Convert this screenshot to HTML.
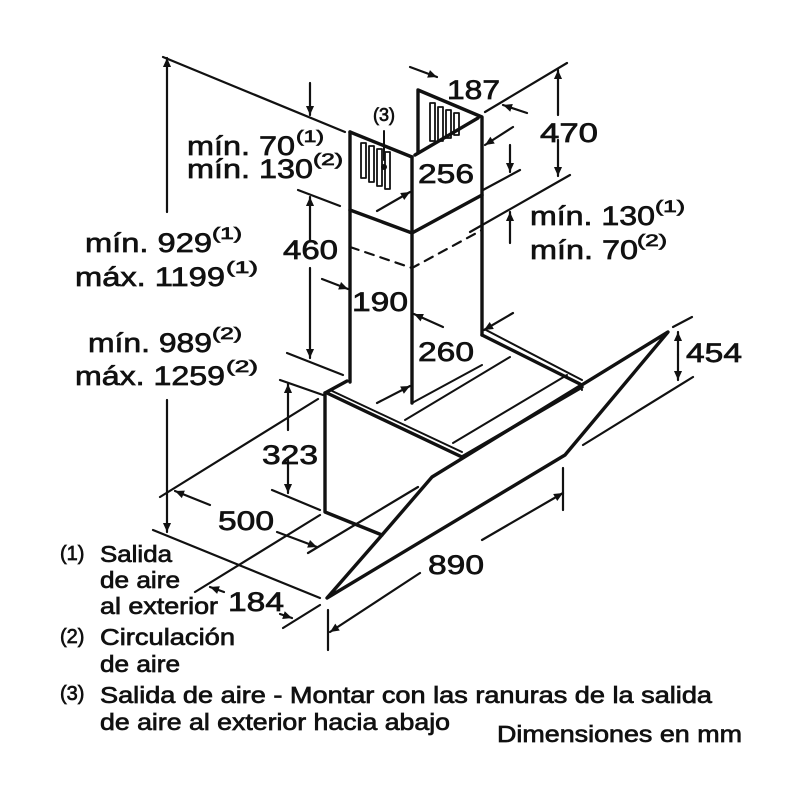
<!DOCTYPE html>
<html><head><meta charset="utf-8"><style>
html,body{margin:0;padding:0;background:#fff;}
svg{display:block;}
text{font-family:"Liberation Sans",Arial,sans-serif;fill:#111;stroke:#111;stroke-width:0.7;}
</style></head><body>
<svg width="800" height="800" viewBox="0 0 800 800" xmlns="http://www.w3.org/2000/svg">
<defs>
<marker id="a" viewBox="0 0 10 10" refX="10" refY="5" markerWidth="11" markerHeight="9" markerUnits="userSpaceOnUse" orient="auto"><path d="M0,0.5 L10,5 L0,9.5 Z" fill="#111"/></marker>
</defs>
<rect width="800" height="800" fill="#fff"/>
<g stroke="#111" fill="none" stroke-linecap="round" stroke-linejoin="round">
<g stroke-width="3.4">
<path d="M350,132 L350,382"/>
<path d="M350,132 L412,157"/>
<path d="M412,157 L412,403"/>
<path d="M418,153 L418,90 L482,117 L482,335"/>
<path d="M415,155 L478,118"/>
<path d="M350,210 L412,233 L482,195"/>
<path d="M325,393 L325,512 L382,535"/>
<path d="M325,393 L347,381"/>
<path d="M327,393 L462,457"/>
<path d="M482,335 L580,384"/>
<path d="M327,598 L382,535 L432,477 L668,332 L565,455 L327,598 Z"/>
<path d="M462,457 L582,387"/>
</g>
<g stroke-width="2">
<path d="M330,390 L462,452"/>
<path d="M486,330 L582,380"/>
<path d="M405,420 L510,357"/>
<path d="M453,443 L567,375"/>
<path d="M412,403 L482,365"/>
<path d="M580,384 L582,390"/>
</g>
<path d="M350,247 L412,268 L482,230" stroke-width="2.2" stroke-dasharray="9,7"/>
<g stroke-width="1.8">
<rect x="361" y="143" width="5" height="35"/><rect x="369" y="146" width="5" height="36"/><rect x="377" y="149" width="5" height="37"/><rect x="385" y="152" width="5" height="37"/>
<rect x="430" y="103" width="5" height="38"/><rect x="438" y="107" width="5" height="34"/><rect x="446" y="110" width="5" height="28"/><rect x="454" y="113" width="5" height="22"/>
</g>
<circle cx="384" cy="167" r="3" fill="#111" stroke="none"/>
<path d="M384,131 L384,160" stroke-width="2"/>
<g stroke-width="2.2">
<path d="M163,57 L345,132"/>
<path d="M167,212 L167,58" marker-end="url(#a)"/>
<path d="M167,400 L167,532" marker-end="url(#a)"/>
<path d="M153,530 L320,598"/>
<path d="M310,83 L310,115" marker-end="url(#a)"/>
<path d="M298,190 L340,206"/>
<path d="M310,240 L310,197" marker-end="url(#a)"/>
<path d="M310,268 L310,358" marker-end="url(#a)"/>
<path d="M287,353 L343,375"/>
<path d="M322,279 L348,289" marker-end="url(#a)"/>
<path d="M377,211 L410,192" marker-end="url(#a)"/>
<path d="M513,127 L485,145" marker-end="url(#a)"/>
<path d="M410,67 L437,77" marker-end="url(#a)"/>
<path d="M527,113 L503,105" marker-end="url(#a)"/>
<path d="M485,112 L567,63"/>
<path d="M558,115 L558,70" marker-end="url(#a)"/>
<path d="M558,140 L558,176" marker-end="url(#a)"/>
<path d="M483,190 L520,170"/>
<path d="M510,145 L510,172" marker-end="url(#a)"/>
<path d="M470,232 L570,175"/>
<path d="M510,243 L510,212" marker-end="url(#a)"/>
<path d="M443,327 L414,314" marker-end="url(#a)"/>
<path d="M513,313 L484,330" marker-end="url(#a)"/>
<path d="M377,403 L410,386" marker-end="url(#a)"/>
<path d="M673,327 L692,317"/>
<path d="M583,445 L693,377"/>
<path d="M678,355 L678,332" marker-end="url(#a)"/>
<path d="M678,355 L678,380" marker-end="url(#a)"/>
<path d="M280,380 L323,395"/>
<path d="M288,430 L288,384" marker-end="url(#a)"/>
<path d="M288,460 L288,493" marker-end="url(#a)"/>
<path d="M272,490 L320,510"/>
<path d="M160,497 L318,399"/>
<path d="M210,505 L175,491" marker-end="url(#a)"/>
<path d="M277,532 L317,547" marker-end="url(#a)"/>
<path d="M308,553 L418,487"/>
<path d="M195,592 L320,515"/>
<path d="M224,592 L210,587" marker-end="url(#a)"/>
<path d="M280,614 L292,618" marker-end="url(#a)"/>
<path d="M283,628 L320,605"/>
<path d="M482,540 L563,493" marker-end="url(#a)"/>
<path d="M563,468 L563,510"/>
<path d="M420,573 L330,632" marker-end="url(#a)"/>
<path d="M328,610 L328,650"/>
</g>
</g>
<g font-size="27">
<text x="187" y="155" textLength="108" lengthAdjust="spacingAndGlyphs">mín. 70</text>
<text x="296" y="142" font-size="17" textLength="28" lengthAdjust="spacingAndGlyphs">(1)</text>
<text x="187" y="178" textLength="126" lengthAdjust="spacingAndGlyphs">mín. 130</text>
<text x="313" y="165" font-size="17" textLength="30" lengthAdjust="spacingAndGlyphs">(2)</text>
<text x="373" y="121" font-size="18">(3)</text>
<text x="447" y="99" textLength="53" lengthAdjust="spacingAndGlyphs">187</text>
<text x="540" y="142" textLength="58" lengthAdjust="spacingAndGlyphs">470</text>
<text x="418" y="183" textLength="56" lengthAdjust="spacingAndGlyphs">256</text>
<text x="530" y="225" textLength="125" lengthAdjust="spacingAndGlyphs">mín. 130</text>
<text x="655" y="212" font-size="17" textLength="30" lengthAdjust="spacingAndGlyphs">(1)</text>
<text x="530" y="259" textLength="108" lengthAdjust="spacingAndGlyphs">mín. 70</text>
<text x="637" y="246" font-size="17" textLength="30" lengthAdjust="spacingAndGlyphs">(2)</text>
<text x="85" y="252" textLength="127" lengthAdjust="spacingAndGlyphs">mín. 929</text>
<text x="212" y="239" font-size="17" textLength="30" lengthAdjust="spacingAndGlyphs">(1)</text>
<text x="75" y="286" textLength="150" lengthAdjust="spacingAndGlyphs">máx. 1199</text>
<text x="226" y="273" font-size="17" textLength="32" lengthAdjust="spacingAndGlyphs">(1)</text>
<text x="88" y="352" textLength="124" lengthAdjust="spacingAndGlyphs">mín. 989</text>
<text x="212" y="339" font-size="17" textLength="30" lengthAdjust="spacingAndGlyphs">(2)</text>
<text x="75" y="385" textLength="150" lengthAdjust="spacingAndGlyphs">máx. 1259</text>
<text x="226" y="372" font-size="17" textLength="32" lengthAdjust="spacingAndGlyphs">(2)</text>
<text x="283" y="259" textLength="55" lengthAdjust="spacingAndGlyphs">460</text>
<text x="352" y="311" textLength="56" lengthAdjust="spacingAndGlyphs">190</text>
<text x="418" y="361" textLength="56" lengthAdjust="spacingAndGlyphs">260</text>
<text x="686" y="362" textLength="56" lengthAdjust="spacingAndGlyphs">454</text>
<text x="262" y="464" textLength="56" lengthAdjust="spacingAndGlyphs">323</text>
<text x="218" y="530" textLength="56" lengthAdjust="spacingAndGlyphs">500</text>
<text x="428" y="574" textLength="56" lengthAdjust="spacingAndGlyphs">890</text>
<text x="228" y="611" textLength="56" lengthAdjust="spacingAndGlyphs">184</text>
</g>
<g font-size="23">
<text x="60" y="560" font-size="20">(1)</text>
<text x="100" y="562" textLength="72" lengthAdjust="spacingAndGlyphs">Salida</text>
<text x="100" y="588" textLength="80" lengthAdjust="spacingAndGlyphs">de aire</text>
<text x="100" y="614" textLength="118" lengthAdjust="spacingAndGlyphs">al exterior</text>
<text x="60" y="643" font-size="20">(2)</text>
<text x="100" y="645" textLength="135" lengthAdjust="spacingAndGlyphs">Circulación</text>
<text x="100" y="672" textLength="80" lengthAdjust="spacingAndGlyphs">de aire</text>
<text x="60" y="700" font-size="20">(3)</text>
<text x="100" y="703" textLength="612" lengthAdjust="spacingAndGlyphs">Salida de aire - Montar con las ranuras de la salida</text>
<text x="100" y="730" textLength="350" lengthAdjust="spacingAndGlyphs">de aire al exterior hacia abajo</text>
<text x="497" y="742" textLength="245" lengthAdjust="spacingAndGlyphs">Dimensiones en mm</text>
</g>
</svg>
</body></html>
